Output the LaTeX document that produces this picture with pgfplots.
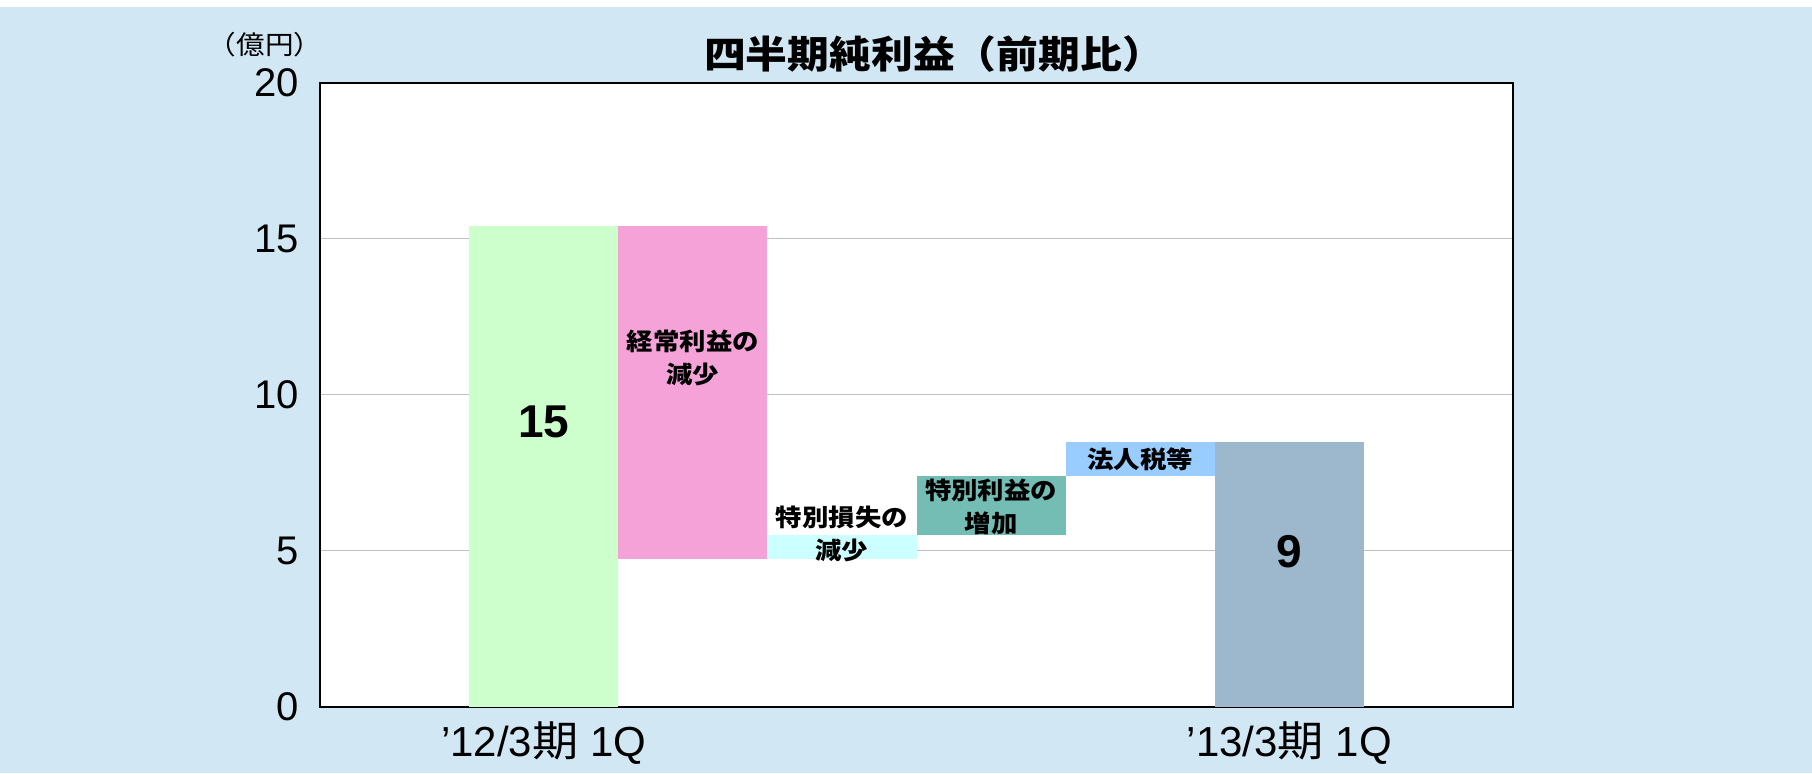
\documentclass[border=0pt]{standalone}
\usepackage{fontspec}
\setmainfont{Liberation Sans}
\newfontfamily\cjk[FakeStretch=1.1]{Noto Sans CJK JP}
\usepackage{pgfplots}
\pgfplotsset{compat=1.18}

\definecolor{bgblue}{HTML}{D1E7F4}
\definecolor{gridgray}{HTML}{BFBFBF}
\definecolor{cgreen}{HTML}{CCFFCC}
\definecolor{cpink}{HTML}{F4A2D8}
\definecolor{ccyan}{HTML}{CCFFFF}
\definecolor{cteal}{HTML}{74BDB5}
\definecolor{cblue}{HTML}{99CCFF}
\definecolor{cfinal}{HTML}{9DB7CC}

\tikzset{
  lab/.style={font=\cjk\bfseries\fontsize{12pt}{16.5pt}\selectfont, align=center},
  num/.style={font=\bfseries\fontsize{23pt}{27pt}\selectfont},
}

\begin{document}
\begin{tikzpicture}
\useasboundingbox (0,0) rectangle (906pt,386.5pt);
\fill[bgblue] (0,0) rectangle (906pt,383pt);

\node[font=\cjk\bfseries\fontsize{19pt}{23pt}\selectfont] at (467pt,359.5pt) {四半期純利益（前期比）};
\node[font=\cjk\fontsize{13pt}{15pt}\selectfont] at (132.5pt,364.25pt) {（億円）};

\begin{axis}[
    at={(160pt,33.15pt)}, anchor=south west,
    scale only axis,
    width=596.5pt, height=312pt,
    xmin=-0.5, xmax=7.5,
    ymin=0, ymax=20,
    ybar stacked, bar width=1,
    ytick={0,5,10,15,20},
    xtick={1,6},
    xticklabels={{’12/3{\cjk 期} 1Q},{’13/3{\cjk 期} 1Q}},
    ymajorgrids,
    grid style={color=gridgray, line width=0.75pt},
    axis line style={line width=1pt},
    major tick length=0pt,
    axis background/.style={fill=white},
    /pgf/number format/assume math mode=true,
    yticklabel style={font=\fontsize{20pt}{24pt}\selectfont, inner sep=0pt, xshift=-10.5pt},
    xticklabel style={font=\fontsize{21pt}{25pt}\selectfont, anchor=base, yshift=-25pt},
    clip=false,
]
% invisible base of the floating bars
\addplot[fill=none, draw=none] coordinates {(1,0) (2,4.75) (3,4.75) (4,5.49) (5,7.40) (6,0)};
\addplot[fill=cgreen, draw=none] coordinates {(1,15.41) (2,0) (3,0) (4,0) (5,0) (6,0)};
\addplot[fill=cpink, draw=none] coordinates {(1,0) (2,10.66) (3,0) (4,0) (5,0) (6,0)};
\addplot[fill=ccyan, draw=none] coordinates {(1,0) (2,0) (3,0.74) (4,0) (5,0) (6,0)};
\addplot[fill=cteal, draw=none] coordinates {(1,0) (2,0) (3,0) (4,1.91) (5,0) (6,0)};
\addplot[fill=cblue, draw=none] coordinates {(1,0) (2,0) (3,0) (4,0) (5,1.09) (6,0)};
\addplot[fill=cfinal, draw=none] coordinates {(1,0) (2,0) (3,0) (4,0) (5,0) (6,8.49)};

\coordinate (t1) at (axis cs:1,9.13);
\coordinate (t6) at (axis cs:6,4.96);
\coordinate (t2) at (axis cs:2,11.19);
\coordinate (t3) at (axis cs:3,5.53);
\coordinate (t4) at (axis cs:4,6.42);
\coordinate (t5) at (axis cs:5,7.94);
\end{axis}

\node[num] at (t1) {15};
\node[num] at (t6) {9};
\node[lab] at (t2) {経常利益の\\減少};
\node[lab] at (t3) {特別損失の\\減少};
\node[lab] at (t4) {特別利益の\\増加};
\node[lab] at (t5) {法人税等};
\end{tikzpicture}
\end{document}
